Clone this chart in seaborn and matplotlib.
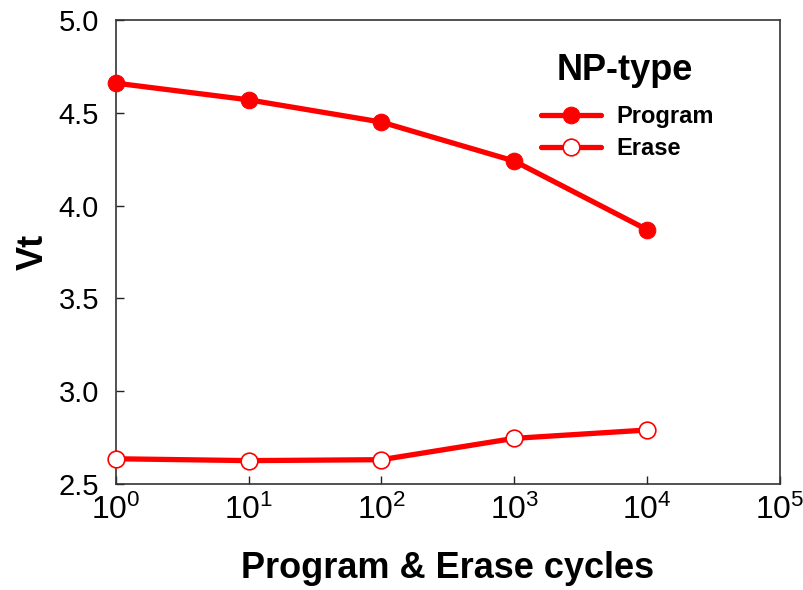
import matplotlib
matplotlib.use("Agg")
import matplotlib.pyplot as plt
import seaborn as sns
import pandas as pd

cycles = [1, 10, 100, 1000, 10000]
program_vt = [4.66, 4.57, 4.45, 4.24, 3.87]
erase_vt = [2.635, 2.625, 2.63, 2.745, 2.79]
x_ticks = [1, 10, 100, 1000, 10000, 100000]
y_ticks = [2.5, 3.0, 3.5, 4.0, 4.5, 5.0]

sns.set_theme(style="white")
plt.rcParams['font.family'] = ['Liberation Sans', 'DejaVu Sans']
plt.rcParams['mathtext.default'] = 'regular'
plt.rcParams['text.color'] = 'black'
plt.rcParams['axes.labelcolor'] = 'black'

fig = plt.figure(figsize=(8.04, 5.90), dpi=100)
ax = fig.add_axes([0.144, 0.180, 0.826, 0.786])

df_p = pd.DataFrame({'cycles': cycles, 'vt': program_vt})
df_e = pd.DataFrame({'cycles': cycles, 'vt': erase_vt})

red = '#ff0000'
sns.lineplot(data=df_p, x='cycles', y='vt', ax=ax, color=red, lw=3.8,
             marker='o', markersize=12, markerfacecolor=red, markeredgecolor=red,
             label='Program', zorder=3, clip_on=False)
sns.lineplot(data=df_e, x='cycles', y='vt', ax=ax, color=red, lw=3.8,
             marker='o', markersize=12, markerfacecolor='white', markeredgecolor=red,
             markeredgewidth=1.2, label='Erase', zorder=3, clip_on=False)

ax.set_xscale('log')
ax.set_xlim(1, 100000)
ax.set_ylim(2.5, 5.0)
ax.set_xticks(x_ticks)
ax.set_yticks(y_ticks)
ax.set_yticklabels([f"{v:.1f}" for v in y_ticks])
ax.minorticks_off()
ax.tick_params(axis='both', direction='in', length=6, width=1, colors='#222222',
               labelcolor='black', bottom=True, left=True)
ax.tick_params(axis='y', labelsize=21, pad=12)
ax.tick_params(axis='x', pad=8)
ax.set_xticklabels([f"$10^{{{i}}}$" for i in range(6)], fontsize=23)

for s in ax.spines.values():
    s.set_visible(True)
    s.set_color('#333333')
    s.set_linewidth(1.2)

ax.set_xlabel('Program & Erase cycles', fontsize=26, fontweight='bold', labelpad=18)
ax.set_ylabel('Vt', fontsize=26, fontweight='bold', labelpad=6)

ax.text(0.767, 0.892, 'NP-type', transform=ax.transAxes, ha='center', va='center',
        fontsize=26, fontweight='bold')
leg = ax.legend(frameon=False, loc='center left',
                bbox_to_anchor=(0.64, 0.7575), fontsize=17,
                handlelength=2.55, handletextpad=0.65, labelspacing=0.38,
                borderaxespad=0, borderpad=0)
for t in leg.get_texts():
    t.set_fontweight('bold')

fig.savefig('out.png', dpi=100)
